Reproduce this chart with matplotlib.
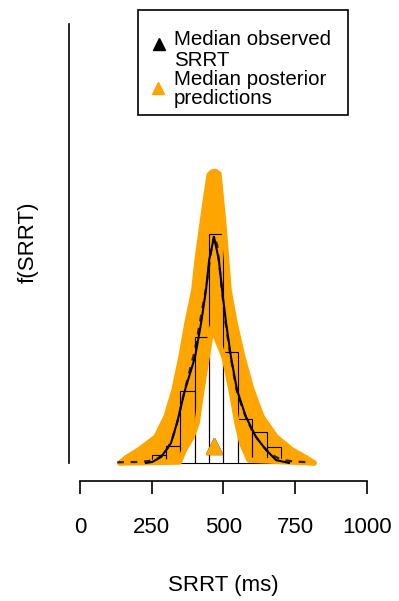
import numpy as np
import matplotlib.pyplot as plt
from matplotlib.lines import Line2D
from matplotlib.patches import Rectangle

plt.rcParams['font.family'] = ['Liberation Sans', 'DejaVu Sans']

# histogram of observed SRRT (density per 50 ms bin)
hist_edges = [250, 300, 350, 400, 450, 500, 550, 600, 650, 700, 750]
hist_density = [0.00025, 0.00053, 0.00225, 0.00393, 0.00714, 0.00346,
                0.00137, 0.00097, 0.00050, 0.00010]

# observed density (solid)
obs_ms = [230, 252, 283, 317, 338, 366, 401, 422, 439, 450, 467,
          484, 495, 509, 526, 547, 578, 613, 648, 683, 728]
obs_density = [0.0, 0.00003, 0.00019, 0.00062, 0.00125, 0.00228, 0.00331,
               0.00437, 0.0054, 0.00633, 0.00705, 0.00633, 0.0054, 0.00437,
               0.00331, 0.00228, 0.00144, 0.00081, 0.00041, 0.00009, 0.0]

# observed density (dashed)
obs2_ms = [130, 200, 240, 270, 295, 320, 340, 360, 380, 400, 420, 440, 455,
           467, 478, 490, 505, 525, 545, 570, 600, 630, 660, 700, 750, 805]
obs2_density = [0.00002, 0.00003, 0.00006, 0.00014, 0.0003, 0.0007, 0.0013,
                0.0021, 0.0028, 0.0035, 0.0045, 0.0055, 0.0065, 0.0071,
                0.0068, 0.0058, 0.0045, 0.0033, 0.0023, 0.0016, 0.0010,
                0.0006, 0.0003, 0.0001, 0.00004, 0.00002]

# posterior predictive densities: upper and lower envelope of all draws
post_upper_ms = [140, 161, 206, 265, 300, 328, 352, 373, 397, 408, 432, 450,
                 460, 472, 484, 502, 519, 540, 567, 599, 634, 683, 738, 787, 815]
post_upper_density = [0.0, 0.00016, 0.00041, 0.00081, 0.00144, 0.00228,
                      0.00331, 0.00437, 0.0054, 0.00633, 0.00789, 0.00899,
                      0.00908, 0.0091, 0.00902, 0.00736, 0.0054, 0.00437,
                      0.00331, 0.00228, 0.00144, 0.00081, 0.00041, 0.00016, 0.0]
post_lower_ms = [140, 346, 363, 390, 408, 425, 443, 460, 502, 526, 547, 564, 589, 815]
post_lower_density = [0.0, 0.00003, 0.0004, 0.0008, 0.00125, 0.0023, 0.00331,
                      0.00424, 0.00331, 0.0023, 0.00125, 0.0006, 0.00009, 0.0]

median_obs = 466
median_post = 467
median_y = 0.00053

ytop = 0.0137

W, H = 399, 601
fig = plt.figure(figsize=(W / 100, H / 100), dpi=100)
ax = fig.add_axes([68.5 / W, 1 - 480.5 / H, 310 / W, 474 / H])

orange = '#FFA500'
band_x = np.concatenate([post_upper_ms, post_lower_ms[::-1]])
band_y = np.concatenate([post_upper_density, post_lower_density[::-1]])
ax.fill(band_x, band_y, color=orange, lw=0)
ax.plot(post_upper_ms, post_upper_density, color=orange, lw=4,
        solid_joinstyle='round', solid_capstyle='round')
ax.plot(post_lower_ms, post_lower_density, color=orange, lw=4,
        solid_joinstyle='round', solid_capstyle='round')

ax.bar(hist_edges[:-1], hist_density, width=np.diff(hist_edges), align='edge',
       fill=False, edgecolor='black', lw=0.8)
ax.plot(obs2_ms, obs2_density, color='black', lw=1.6, ls=(0, (3, 3)), alpha=0.8)
ax.plot(obs_ms, obs_density, color='black', lw=1.5)

ax.plot([median_obs], [median_y], marker='^', color='black', ms=11, ls='none')
ax.plot([median_post], [median_y], marker='^', color=orange, ms=11, ls='none')

ax.set_xlim(-40, 1040)
ax.set_ylim(-0.04 * ytop, 1.04 * ytop)
for s in ['top', 'right']:
    ax.spines[s].set_visible(False)
ax.spines['left'].set_bounds(0, ytop)
ax.spines['bottom'].set_bounds(0, 1000)
ax.spines['left'].set_linewidth(1.2)
ax.spines['bottom'].set_linewidth(1.2)
ax.set_yticks([])
ax.set_xticks([0, 250, 500, 750, 1000])
ax.tick_params(axis='x', length=9.5, width=1.2, pad=17, labelsize=16)

fig.text(223.5 / W, 1 - 585 / H, 'SRRT (ms)', ha='center', va='center', fontsize=16)
fig.text(28 / W, 1 - 242 / H, 'f(SRRT)', ha='center', va='center',
         rotation=90, fontsize=16)

# legend box drawn by hand (R style, entries overlap)
fig.patches.append(Rectangle((138 / W, 1 - 115 / H), 210 / W, 105 / H,
                             transform=fig.transFigure, fill=False,
                             edgecolor='black', lw=1.2))
fig.add_artist(Line2D([159 / W], [1 - 44 / H], marker='^', color='black',
                      ms=9, ls='none', transform=fig.transFigure))
fig.add_artist(Line2D([158 / W], [1 - 88 / H], marker='^', color=orange,
                      ms=9, ls='none', transform=fig.transFigure))
fig.text(174 / W, 1 - 50 / H, 'Median observed\nSRRT', ha='left', va='center',
         fontsize=14.8, linespacing=1.15)
fig.text(174 / W, 1 - 89 / H, 'Median posterior\npredictions', ha='left',
         va='center', fontsize=14.8, linespacing=1.0)

fig.savefig('out.png', dpi=100)
